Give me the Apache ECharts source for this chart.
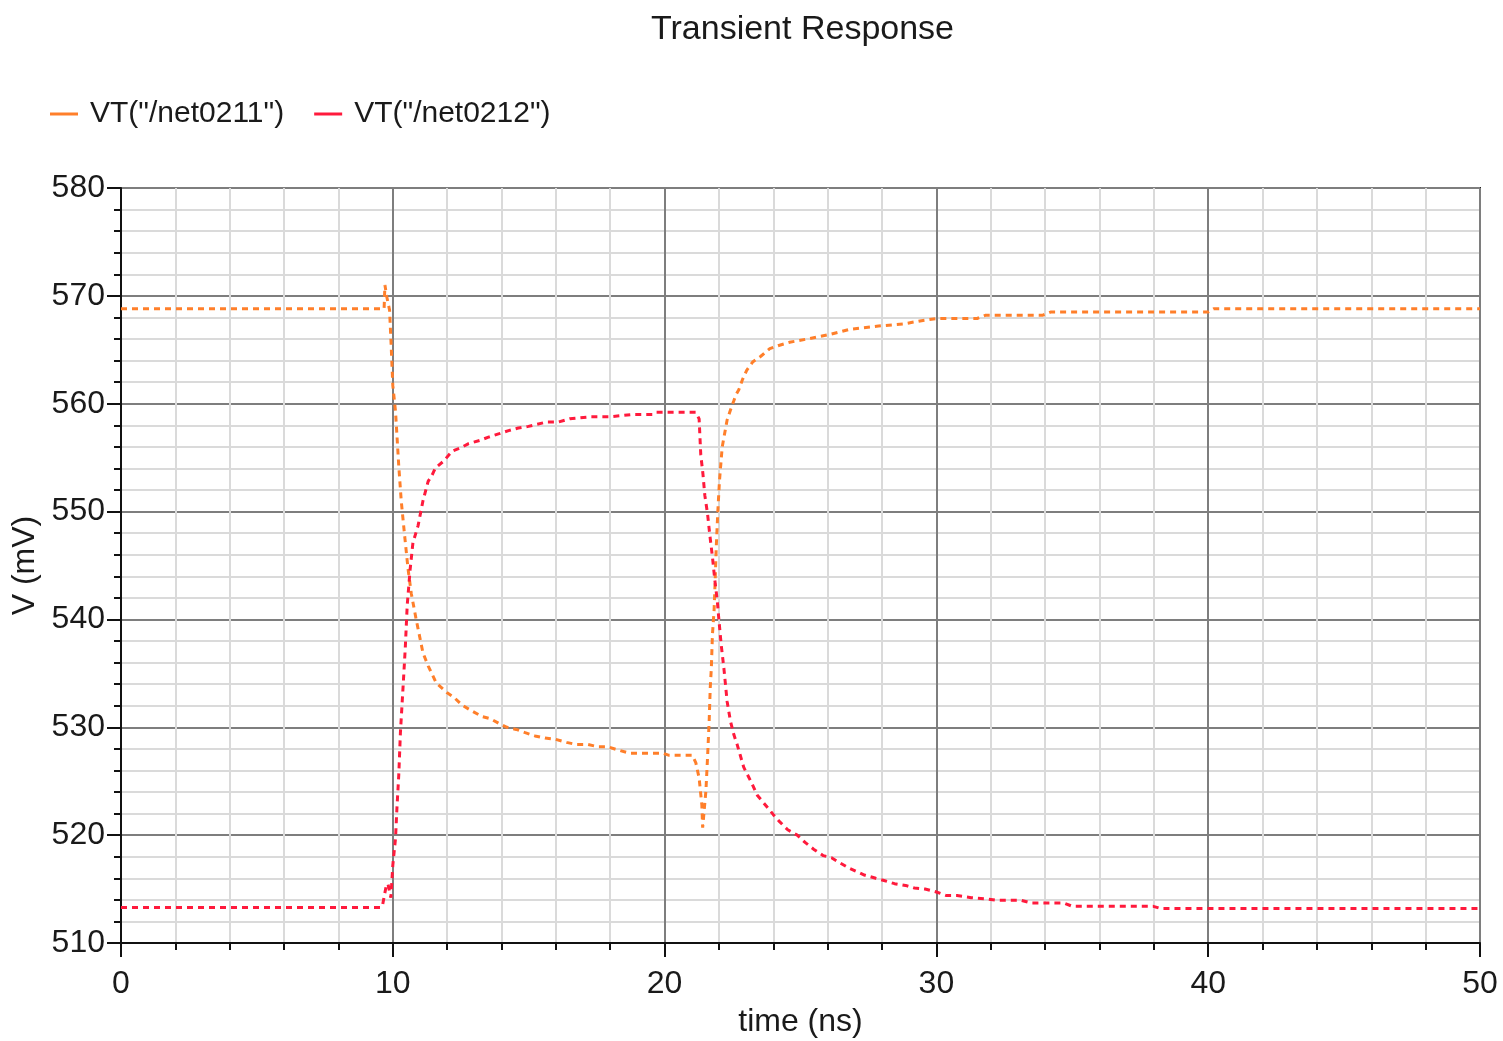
<!DOCTYPE html>
<html>
<head>
<meta charset="utf-8">
<script src="https://cdn.jsdelivr.net/npm/echarts@6/dist/echarts.min.js"></script>
<style>
html,body{margin:0;padding:0;background:#fff;}
#c{width:1503px;height:1041px;}
</style>
</head>
<body>
<div id="c"></div>
<script>
const titleText = 'Transient Response';
const seriesNames = ['VT("/net0211")', 'VT("/net0212")'];
const xTicks = [0, 10, 20, 30, 40, 50];
const yTicks = [510, 520, 530, 540, 550, 560, 570, 580];

// VT("/net0211") — time (ns) and voltage (mV)
const t0211 = [0, 9.68, 9.71, 9.78, 9.88, 9.94, 10.0, 10.1, 10.22, 10.31, 10.43, 10.56, 10.68, 10.86, 11.11, 11.3, 11.6, 12.0, 12.24, 12.55, 12.85, 13.28, 13.59, 13.95, 14.2, 14.54, 14.87, 15.23, 15.6, 15.96, 16.39, 16.76, 17.18, 17.55, 17.9, 18.28, 18.7, 19.07, 19.93, 20.17, 21.02, 21.15, 21.27, 21.37, 21.40, 21.52, 21.58, 21.64, 21.68, 21.72, 21.76, 21.82, 21.86, 21.9, 21.96, 22.02, 22.12, 22.3, 22.42, 22.55, 22.62, 22.73, 22.86, 23.02, 23.25, 23.54, 23.87, 24.2, 24.6, 25.25, 26.04, 26.82, 27.87, 28.8, 29.45, 30.0, 31.5, 31.8, 33.9, 34.2, 40.0, 40.2, 50];
const v0211 = [568.8, 568.8, 571.0, 569.9, 568.7, 565.4, 561.7, 559.3, 554.2, 551.0, 547.9, 544.7, 542.4, 540.0, 536.9, 535.7, 534.1, 533.2, 532.8, 532.05, 531.6, 531.0, 530.8, 530.3, 530.0, 529.8, 529.5, 529.2, 529.0, 528.9, 528.6, 528.4, 528.4, 528.2, 528.2, 527.9, 527.6, 527.6, 527.6, 527.4, 527.4, 526.7, 525.3, 522.8, 520.7, 524.1, 527.2, 530.6, 533.7, 535.5, 538.6, 540.8, 543.6, 546.7, 550.1, 552.9, 556.0, 558.5, 559.4, 560.3, 560.8, 561.3, 562.2, 563.1, 563.9, 564.4, 565.1, 565.4, 565.7, 566.0, 566.4, 566.9, 567.2, 567.4, 567.7, 567.9, 567.9, 568.2, 568.2, 568.5, 568.5, 568.8, 568.8];

// VT("/net0212") — time (ns) and voltage (mV)
const t0212 = [0, 9.57, 9.63, 9.75, 9.82, 9.93, 10.0, 10.1, 10.15, 10.22, 10.28, 10.37, 10.46, 10.53, 10.64, 10.74, 10.93, 11.11, 11.3, 11.45, 11.57, 11.88, 12.18, 12.49, 12.79, 13.2, 13.52, 13.89, 14.26, 14.62, 14.99, 15.66, 16.09, 16.51, 17.3, 18.04, 18.83, 19.56, 19.68, 21.15, 21.27, 21.33, 21.41, 21.48, 21.58, 21.66, 21.76, 21.85, 21.94, 22.0, 22.08, 22.18, 22.3, 22.42, 22.55, 22.67, 22.91, 23.21, 23.41, 23.74, 24.0, 24.23, 24.53, 24.88, 25.18, 25.48, 25.84, 26.14, 26.47, 26.82, 27.35, 27.77, 28.07, 28.46, 28.92, 29.19, 29.58, 29.97, 30.37, 30.76, 31.28, 31.81, 32.2, 33.1, 33.5, 34.7, 35.0, 37.98, 38.24, 50];
const v0212 = [513.3, 513.3, 513.6, 515.2, 515.5, 514.2, 517.2, 519.7, 522.4, 525.6, 529.5, 533.4, 537.4, 541.3, 544.7, 547.1, 548.7, 551.0, 552.8, 553.4, 554.05, 554.7, 555.6, 555.9, 556.3, 556.6, 556.9, 557.2, 557.5, 557.75, 557.9, 558.3, 558.3, 558.6, 558.8, 558.8, 559.0, 559.0, 559.2, 559.2, 558.6, 555.3, 553.5, 551.5, 549.8, 547.9, 545.8, 543.6, 541.7, 539.9, 537.7, 535.5, 532.4, 530.6, 529.3, 528.4, 526.3, 524.8, 523.7, 522.7, 521.9, 521.25, 520.5, 520.0, 519.3, 518.7, 518.1, 517.9, 517.4, 516.9, 516.3, 516.0, 515.8, 515.5, 515.3, 515.1, 515.0, 514.75, 514.4, 514.4, 514.2, 514.1, 513.97, 513.97, 513.7, 513.7, 513.4, 513.4, 513.2, 513.2];

const colors = ['#ff7f2a', '#ff1a3c'];
const FONT = '"Liberation Sans", Arial, sans-serif';

function pairs(t, v) { return t.map((x, i) => [x, v[i]]); }

const chart = echarts.init(document.getElementById('c'), null, {renderer: 'canvas'});
const axisCommon = {
  axisLine: {show: true, lineStyle: {color: '#111', width: 2}},
  axisTick: {show: true, inside: false, length: 14, lineStyle: {color: '#111', width: 2}},
  minorTick: {show: true, splitNumber: 5, length: 7, lineStyle: {color: '#111', width: 2}},
  splitLine: {show: true, lineStyle: {color: '#7e7e7e', width: 2}},
  minorSplitLine: {show: true, lineStyle: {color: '#dadada', width: 2}},
  nameTextStyle: {fontFamily: FONT, fontSize: 32, color: '#1a1a1a'},
};
chart.setOption({
  animation: false,
  backgroundColor: '#ffffff',
  color: colors,
  title: {
    text: titleText, left: 646, top: 8,
    textStyle: {fontFamily: FONT, fontSize: 34, fontWeight: 'normal', color: '#1a1a1a'}
  },
  legend: {
    left: 45, top: 94, icon: 'rect', itemWidth: 28, itemHeight: 3, itemGap: 30,
    textStyle: {fontFamily: FONT, fontSize: 30, color: '#1a1a1a', padding: [0, 0, 0, 7]},
    data: seriesNames
  },
  grid: {left: 121, right: 23, top: 188, bottom: 98, show: true, borderColor: '#222', borderWidth: 2,
         backgroundColor: 'transparent', containLabel: false, outerBoundsMode: 'none'},
  xAxis: Object.assign({}, axisCommon, {
    type: 'value', min: xTicks[0], max: xTicks[xTicks.length - 1], interval: 10,
    name: 'time (ns)', nameLocation: 'middle', nameGap: 63,
    axisLabel: {fontFamily: FONT, fontSize: 32, color: '#1a1a1a', margin: 25}
  }),
  yAxis: Object.assign({}, axisCommon, {
    type: 'value', min: yTicks[0], max: yTicks[yTicks.length - 1], interval: 10,
    name: 'V (mV)', nameLocation: 'middle', nameGap: 75,
    axisLabel: {fontFamily: FONT, fontSize: 32, color: '#1a1a1a', margin: 16}
  }),
  series: [
    {name: seriesNames[0], type: 'line', data: pairs(t0211, v0211), showSymbol: false, symbol: 'none',
     lineStyle: {color: colors[0], width: 3, type: [6, 5]}, z: 3},
    {name: seriesNames[1], type: 'line', data: pairs(t0212, v0212), showSymbol: false, symbol: 'none',
     lineStyle: {color: colors[1], width: 3, type: [6, 5]}, z: 4}
  ]
});
</script>
</body>
</html>
